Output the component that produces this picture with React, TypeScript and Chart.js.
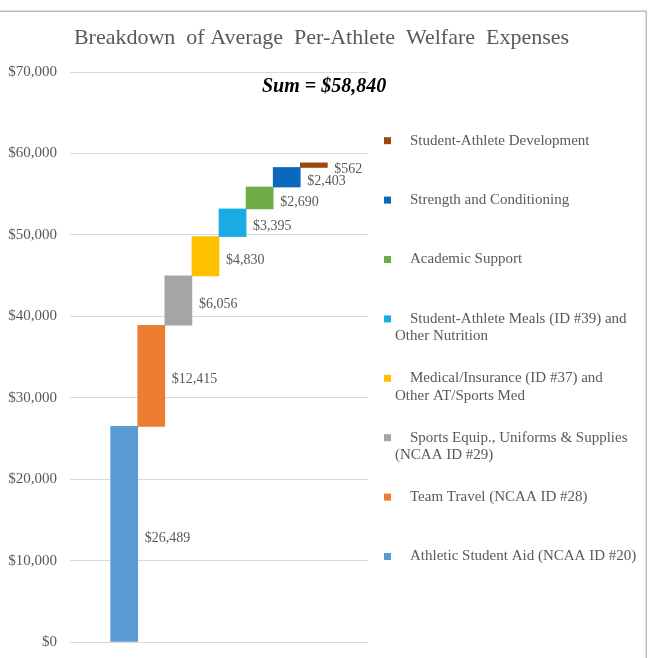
import React, { useEffect, useRef } from "react";
import { Chart, registerables } from "chart.js";

Chart.register(...registerables);

// Expense categories, bottom of the staircase first
const categories = [
  "Athletic Student Aid (NCAA ID #20)",
  "Team Travel (NCAA ID #28)",
  "Sports Equip., Uniforms & Supplies (NCAA ID #29)",
  "Medical/Insurance (ID #37) and Other AT/Sports Med",
  "Student-Athlete Meals (ID #39) and Other Nutrition",
  "Academic Support",
  "Strength and Conditioning",
  "Student-Athlete Development",
];

// Average per-athlete amount for each category (USD)
const amounts = [26489, 12415, 6056, 4830, 3395, 2690, 2403, 562];

const colors = [
  "#5B9BD5",
  "#ED7D31",
  "#A5A5A5",
  "#FFC000",
  "#1AABE4",
  "#70AD47",
  "#0B68BD",
  "#9E480E",
];

const yTicks = [0, 10000, 20000, 30000, 40000, 50000, 60000, 70000];

const titleText = "Breakdown  of Average  Per-Athlete  Welfare  Expenses";

const SERIF = "'Liberation Serif', 'Times New Roman', serif";
const TEXT_GRAY = "#595959";

const money = (v: number) => "$" + v.toLocaleString("en-US");

// Running totals give each floating bar its [start, end] range
function buildRanges(values: number[]): [number, number][] {
  const out: [number, number][] = [];
  let acc = 0;
  for (const v of values) {
    out.push([acc, acc + v]);
    acc += v;
  }
  return out;
}

function wrapWords(ctx: CanvasRenderingContext2D, text: string, firstMax: number, restMax: number): string[] {
  const words = text.split(" ");
  const lines: string[] = [];
  let line = "";
  for (const w of words) {
    const test = line ? line + " " + w : w;
    const limit = lines.length === 0 ? firstMax : restMax;
    if (line && ctx.measureText(test).width > limit) {
      lines.push(line);
      line = w;
    } else {
      line = test;
    }
  }
  if (line) lines.push(line);
  return lines;
}

const decorPlugin = {
  id: "waterfallDecor",
  beforeDraw(chart: any) {
    const { ctx } = chart;
    ctx.save();
    ctx.fillStyle = "#FFFFFF";
    ctx.fillRect(0, 0, chart.width, chart.height);
    // frame: top edge and right edge
    ctx.strokeStyle = "#BDBDBD";
    ctx.lineWidth = 1.5;
    ctx.beginPath();
    ctx.moveTo(0, 11.25);
    ctx.lineTo(646.25, 11.25);
    ctx.lineTo(646.25, chart.height + 2);
    ctx.stroke();
    ctx.restore();
  },
  afterDraw(chart: any) {
    const { ctx } = chart;
    ctx.save();

    // title
    ctx.font = `22px ${SERIF}`;
    ctx.fillStyle = TEXT_GRAY;
    ctx.textAlign = "center";
    ctx.textBaseline = "middle";
    ctx.fillText(titleText, 321.5, 38);

    // total annotation
    const total = amounts.reduce((a, b) => a + b, 0);
    ctx.font = `italic bold 20px ${SERIF}`;
    ctx.fillStyle = "#000000";
    ctx.textAlign = "left";
    ctx.fillText(`Sum = ${money(total)}`, 262, 87);

    // value labels beside each bar
    ctx.font = `14px ${SERIF}`;
    ctx.fillStyle = TEXT_GRAY;
    ctx.textAlign = "left";
    ctx.textBaseline = "middle";
    chart.data.datasets.forEach((ds: any, i: number) => {
      const meta = chart.getDatasetMeta(i);
      const el = meta.data[0];
      if (!el) return;
      const props = el.getProps(["x", "y", "base", "width"], true);
      const right = props.x + props.width / 2;
      const mid = (props.y + props.base) / 2;
      ctx.fillText(money(amounts[i]), right + 7, mid + 4);
    });

    // legend, last category on top
    ctx.font = `15px ${SERIF}`;
    const order = categories.map((_, i) => i).reverse();
    order.forEach((idx, row) => {
      const y = 140.7 + row * 59.4;
      ctx.fillStyle = colors[idx];
      ctx.fillRect(384, y - 3.5, 7, 7);
      ctx.fillStyle = TEXT_GRAY;
      const lines = wrapWords(ctx, categories[idx], 229, 240);
      lines.forEach((ln, k) => {
        ctx.fillText(ln, k === 0 ? 410 : 395, y + k * 17.3);
      });
    });

    ctx.restore();
  },
};

export default function App() {
  const canvasRef = useRef<HTMLCanvasElement | null>(null);

  useEffect(() => {
    document.body.style.margin = "0";
    const canvas = canvasRef.current;
    if (!canvas) return;
    const ranges = buildRanges(amounts);

    const chart = new Chart(canvas, {
      type: "bar",
      data: {
        datasets: categories.map((label, i) => ({
          label,
          data: [{ x: i + 1, y: ranges[i] }],
          backgroundColor: colors[i],
          borderWidth: 0,
          grouped: false,
          barPercentage: 1,
          categoryPercentage: 1,
        })),
      } as any,
      options: {
        animation: false,
        responsive: false,
        devicePixelRatio: 1,
        events: [],
        layout: { padding: { left: 8, top: 72, right: 283, bottom: 16 } },
        plugins: {
          legend: { display: false },
          title: { display: false },
          tooltip: { enabled: false },
        },
        scales: {
          x: {
            type: "linear",
            min: -1,
            max: 10,
            offset: false,
            display: false,
            afterFit: (scale: any) => {
              scale.height = 0;
              scale.paddingTop = 0;
              scale.paddingBottom = 0;
              scale.paddingLeft = 0;
              scale.paddingRight = 0;
            },
          },
          y: {
            min: 0,
            max: 70000,
            border: { display: false },
            grid: { color: "#D9D9D9", lineWidth: 1, drawTicks: false },
            afterBuildTicks: (scale: any) => {
              scale.ticks = yTicks.map((v) => ({ value: v }));
            },
            afterFit: (scale: any) => {
              scale.width = 62;
              scale.paddingTop = 0;
              scale.paddingBottom = 0;
            },
            ticks: {
              padding: 13,
              color: TEXT_GRAY,
              font: { family: SERIF, size: 15 },
              callback: (v: any) => money(Number(v)),
            },
          },
        },
      } as any,
      plugins: [decorPlugin],
    });

    return () => chart.destroy();
  }, []);

  return (
    <div style={{ position: "absolute", left: 0, top: 0, width: 651, height: 658 }}>
      <canvas ref={canvasRef} width={651} height={658} />
    </div>
  );
}
